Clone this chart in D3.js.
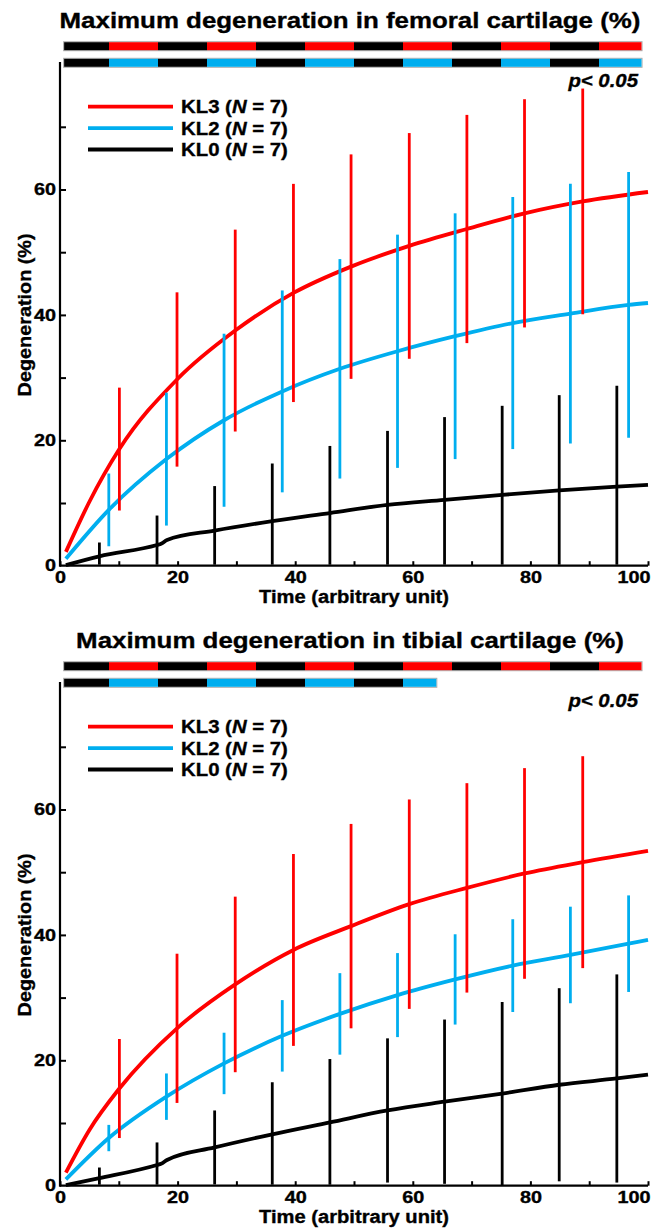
<!DOCTYPE html>
<html>
<head>
<meta charset="utf-8">
<script src="https://cdn.jsdelivr.net/npm/d3@7"></script>
<style>
  body { margin: 0; background: #fff; }
  text { font-family: "Liberation Sans", Arial, sans-serif; font-weight: bold; stroke: #000; stroke-width: 0.35px; }
</style>
</head>
<body>
<script>
// ---------------- DATA ----------------
const seriesNames = ["KL3", "KL2", "KL0"];
const seriesColors = { KL3: "#ff0000", KL2: "#00aeef", KL0: "#000000" };
const legendN = 7;

// time positions of error bars (slightly offset per group)
const timeKL3 = [10.1, 19.9, 29.8, 39.7, 49.5, 59.4, 69.2, 79.0, 88.9];
const timeKL2 = [8.3, 18.1, 27.9, 37.8, 47.6, 57.4, 67.2, 77.0, 86.8, 96.7];
const timeKL0 = [6.7, 16.5, 26.3, 36.1, 45.9, 55.7, 65.4, 75.2, 84.9, 94.7];

// femoral cartilage: means and error half-widths
const femMeanKL3 = [18.6, 29.7, 37.5, 43.5, 47.7, 51.0, 53.7, 56.2, 58.1];
const femErrKL3  = [9.8, 13.9, 16.1, 17.4, 17.9, 18.0, 18.2, 18.2, 18.0];
const femMeanKL2 = [8.9, 17.0, 23.2, 27.8, 31.4, 34.2, 36.6, 38.7, 40.2, 41.6];
const femErrKL2  = [5.8, 10.6, 13.8, 16.1, 17.5, 18.6, 19.6, 20.1, 20.7, 21.2];
const femMeanKL0 = [1.5, 3.3, 5.6, 7.1, 8.4, 9.7, 10.5, 11.3, 12.0, 12.6];
const femErrKL0  = [2.2, 4.7, 7.1, 9.2, 10.7, 11.8, 13.2, 14.2, 15.2, 16.1];

// femoral fitted curves
const femCurveXKL3 = [1, 5, 10.1, 19.9, 29.8, 39.7, 49.5, 59.4, 69.2, 79.0, 88.9, 100];
const femCurveYKL3 = [2.2, 10.2, 18.6, 29.7, 37.5, 43.5, 47.7, 51.0, 53.7, 56.2, 58.1, 59.6];
const femCurveXKL2 = [1, 8.3, 18.1, 27.9, 37.8, 47.6, 57.4, 67.2, 77.0, 86.8, 96.7, 100];
const femCurveYKL2 = [1.1, 8.9, 17.0, 23.2, 27.8, 31.4, 34.2, 36.6, 38.7, 40.2, 41.6, 41.9];
const femCurveXKL0 = [1, 6.7, 16.5, 17.2, 18.2, 26.3, 36.1, 45.9, 55.7, 65.4, 75.2, 84.9, 94.7, 100];
const femCurveYKL0 = [0.1, 1.5, 3.3, 3.5, 4.1, 5.6, 7.1, 8.4, 9.7, 10.5, 11.3, 12.0, 12.6, 12.9];

// tibial cartilage: means and error half-widths
const tibMeanKL3 = [15.5, 25.1, 32.1, 37.6, 41.4, 44.9, 47.5, 49.8, 51.6];
const tibErrKL3  = [7.9, 11.9, 14.0, 15.3, 16.3, 16.7, 16.7, 16.8, 16.9];
const tibMeanKL2 = [7.6, 14.2, 19.5, 23.9, 27.4, 30.4, 32.9, 35.1, 36.8, 38.6];
const tibErrKL2  = [2.1, 3.7, 4.9, 5.7, 6.5, 6.7, 7.2, 7.4, 7.7, 7.7];
const tibMeanKL0 = [1.2, 3.3, 6.1, 8.2, 10.1, 12.0, 13.4, 14.7, 16.1, 17.1];
const tibErrKL0  = [1.7, 3.6, 5.9, 8.3, 10.1, 11.5, 13.1, 14.6, 15.4, 16.6];

// tibial fitted curves
const tibCurveXKL3 = [1, 5, 10.1, 19.9, 29.8, 39.7, 49.5, 59.4, 69.2, 79.0, 88.9, 100];
const tibCurveYKL3 = [2.1, 8.9, 15.5, 25.1, 32.1, 37.6, 41.4, 44.9, 47.5, 49.8, 51.6, 53.4];
const tibCurveXKL2 = [1, 8.3, 18.1, 27.9, 37.8, 47.6, 57.4, 67.2, 77.0, 86.8, 96.7, 100];
const tibCurveYKL2 = [1.0, 7.6, 14.2, 19.5, 23.9, 27.4, 30.4, 32.9, 35.1, 36.8, 38.6, 39.2];
const tibCurveXKL0 = [1, 6.7, 16.5, 17.2, 18.2, 26.3, 36.1, 45.9, 55.7, 65.4, 75.2, 84.9, 94.7, 100];
const tibCurveYKL0 = [0.1, 1.2, 3.3, 3.5, 4.1, 6.1, 8.2, 10.1, 12.0, 13.4, 14.7, 16.1, 17.1, 17.7];

// significance bars (time range where p < 0.05); row 1: KL3 vs KL0, row 2: KL2 vs KL0
const sigPeriod = 100 / 12;
const femSigKL3 = [0.7, 98.9];
const femSigKL2 = [0.7, 98.9];
const tibSigKL3 = [0.7, 98.9];
const tibSigKL2 = [0.7, 64.0];

const titles = ["Maximum degeneration in femoral cartilage (%)", "Maximum degeneration in tibial cartilage (%)"];
const xTicks = [0, 10, 20, 30, 40, 50, 60, 70, 80, 90, 100];
const xTickLabels = [0, 20, 40, 60, 80, 100];
const yTicks = [0, 10, 20, 30, 40, 50, 60, 70];
const yTickLabels = [0, 20, 40, 60];
const xLabel = "Time (arbitrary unit)";
const yLabel = "Degeneration (%)";
const pText = "p< 0.05";

// ---------------- DRAW ----------------
const svg = d3.select("body").append("svg").attr("width", 651).attr("height", 1228);

const x = d3.scaleLinear().domain([0, 100]).range([60, 648]);
const y = d3.scaleLinear().domain([0, 80]).range([565.7, 64.1]);

function stretch(sel, f) {
  sel.each(function () {
    const L = this.getComputedTextLength();
    d3.select(this).attr("textLength", L * f).attr("lengthAdjust", "spacingAndGlyphs");
  });
}

const panels = [
  {
    title: titles[0],
    series: {
      KL3: { t: timeKL3, m: femMeanKL3, e: femErrKL3, cx: femCurveXKL3, cy: femCurveYKL3 },
      KL2: { t: timeKL2, m: femMeanKL2, e: femErrKL2, cx: femCurveXKL2, cy: femCurveYKL2 },
      KL0: { t: timeKL0, m: femMeanKL0, e: femErrKL0, cx: femCurveXKL0, cy: femCurveYKL0 }
    },
    sig: [{ range: femSigKL3, color: seriesColors.KL3 }, { range: femSigKL2, color: seriesColors.KL2 }]
  },
  {
    title: titles[1],
    series: {
      KL3: { t: timeKL3, m: tibMeanKL3, e: tibErrKL3, cx: tibCurveXKL3, cy: tibCurveYKL3 },
      KL2: { t: timeKL2, m: tibMeanKL2, e: tibErrKL2, cx: tibCurveXKL2, cy: tibCurveYKL2 },
      KL0: { t: timeKL0, m: tibMeanKL0, e: tibErrKL0, cx: tibCurveXKL0, cy: tibCurveYKL0 }
    },
    sig: [{ range: tibSigKL3, color: seriesColors.KL3 }, { range: tibSigKL2, color: seriesColors.KL2 }]
  }
];

panels.forEach((p, pi) => {
  const g = svg.append("g").attr("transform", `translate(0,${pi * 620})`);

  // title
  const tt = g.append("text").attr("x", 350).attr("y", 28.3)
    .attr("text-anchor", "middle").attr("font-size", 22.5).text(p.title);
  stretch(tt, 1.15);

  // significance rows
  const rowY = [42.2, 58.8];
  p.sig.forEach((s, ri) => {
    const r = g.append("g");
    const segs = [];
    let k = 0;
    while (k * sigPeriod < s.range[1]) {
      const a = Math.max(k * sigPeriod, s.range[0]);
      const b = Math.min((k + 1) * sigPeriod, s.range[1]);
      segs.push({ a, b, c: k % 2 === 0 ? "#000" : s.color });
      k++;
    }
    r.append("rect").attr("x", x(s.range[0]) - 0.5).attr("y", rowY[ri] - 0.5)
      .attr("width", x(s.range[1]) - x(s.range[0]) + 1).attr("height", 9)
      .attr("fill", "none").attr("stroke", "#aaa").attr("stroke-width", 1);
    r.selectAll("rect.seg").data(segs).join("rect").attr("class", "seg")
      .attr("x", d => x(d.a)).attr("width", d => x(d.b) - x(d.a))
      .attr("y", rowY[ri]).attr("height", 8).attr("fill", d => d.c);
  });

  // axes
  const xa = g.append("g").attr("transform", `translate(0,${y(0)})`)
    .call(d3.axisBottom(x).tickValues(xTicks).tickSize(-4.5).tickSizeOuter(0).tickPadding(6)
      .tickFormat(d => xTickLabels.includes(d) ? d : ""));
  xa.select(".domain").attr("stroke-width", 2.2).attr("d", `M${x(0)},0H${x(100)}`);
  xa.selectAll(".tick line").attr("stroke-width", 2);
  xa.selectAll("text").attr("font-size", 16.5).attr("font-weight", "bold").attr("fill", "#000")
    .attr("font-family", '"Liberation Sans", Arial, sans-serif');
  xa.selectAll(".tick").filter(d => d === 100).select("text")
    .attr("text-anchor", "end").attr("x", 650 - x(100));
  stretch(xa.selectAll("text").filter(function () { return this.textContent !== ""; }), 1.2);

  const ya = g.append("g").attr("transform", `translate(${x(0)},0)`)
    .call(d3.axisLeft(y).tickValues(yTicks).tickSize(-6).tickSizeOuter(0).tickPadding(4)
      .tickFormat(d => yTickLabels.includes(d) ? d : ""));
  ya.select(".domain").attr("stroke-width", 2.2).attr("d", `M0,${y(0) + 1}V${y(80) - 2}`);
  ya.selectAll(".tick line").attr("stroke-width", 2);
  ya.selectAll(".tick").filter(d => d === 0).select("line").remove();
  ya.selectAll("text").attr("font-size", 16.5).attr("font-weight", "bold").attr("fill", "#000")
    .attr("font-family", '"Liberation Sans", Arial, sans-serif');
  stretch(ya.selectAll("text").filter(function () { return this.textContent !== ""; }), 1.2);

  // axis labels
  const xl = g.append("text").attr("x", (x(0) + x(100)) / 2).attr("y", 602.7)
    .attr("text-anchor", "middle").attr("font-size", 18).text(xLabel);
  stretch(xl, 1.12);
  const yl = g.append("text").attr("transform", `translate(30.5,${(y(0) + y(80)) / 2}) rotate(-90)`)
    .attr("text-anchor", "middle").attr("font-size", 18).text(yLabel);
  yl.attr("textLength", 163).attr("lengthAdjust", "spacingAndGlyphs");

  // curves
  const line = d3.line().x(d => x(d[0])).y(d => y(d[1])).curve(d3.curveMonotoneX);
  ["KL0", "KL2", "KL3"].forEach(name => {
    const s = p.series[name];
    const pts = s.cx.map((v, i) => [v, s.cy[i]]);
    g.append("path").attr("d", line(pts)).attr("fill", "none")
      .attr("stroke", seriesColors[name]).attr("stroke-width", 3.8);
  });

  // error bars
  ["KL0", "KL2", "KL3"].forEach(name => {
    const s = p.series[name];
    const data = s.t.map((t, i) => ({ t, lo: Math.max(0, s.m[i] - s.e[i]), hi: s.m[i] + s.e[i] }));
    g.selectAll(null).data(data).join("line")
      .attr("x1", d => x(d.t)).attr("x2", d => x(d.t))
      .attr("y1", d => y(d.lo) - (d.lo === 0 ? 1 : 0)).attr("y2", d => y(d.hi))
      .attr("stroke", seriesColors[name]).attr("stroke-width", 2.8);
  });

  // legend
  const lg = g.append("g");
  const legY = [106.7, 128.2, 149.5];
  seriesNames.forEach((name, i) => {
    lg.append("line").attr("x1", 88).attr("x2", 173).attr("y1", legY[i]).attr("y2", legY[i])
      .attr("stroke", seriesColors[name]).attr("stroke-width", 3.8);
    const t = lg.append("text").attr("x", 181).attr("y", legY[i] + 6.5).attr("font-size", 18.5);
    t.append("tspan").text(`${name} (`);
    t.append("tspan").attr("font-style", "italic").text("N");
    t.append("tspan").text(` = ${legendN})`);
    stretch(t, 1.1);
  });

  // p-value
  const pt = g.append("text").attr("x", 638).attr("y", 86.7).attr("text-anchor", "end")
    .attr("font-size", 18.5).attr("font-style", "italic");
  pt.text(pText);
  stretch(pt, 1.1);
});
</script>
</body>
</html>
